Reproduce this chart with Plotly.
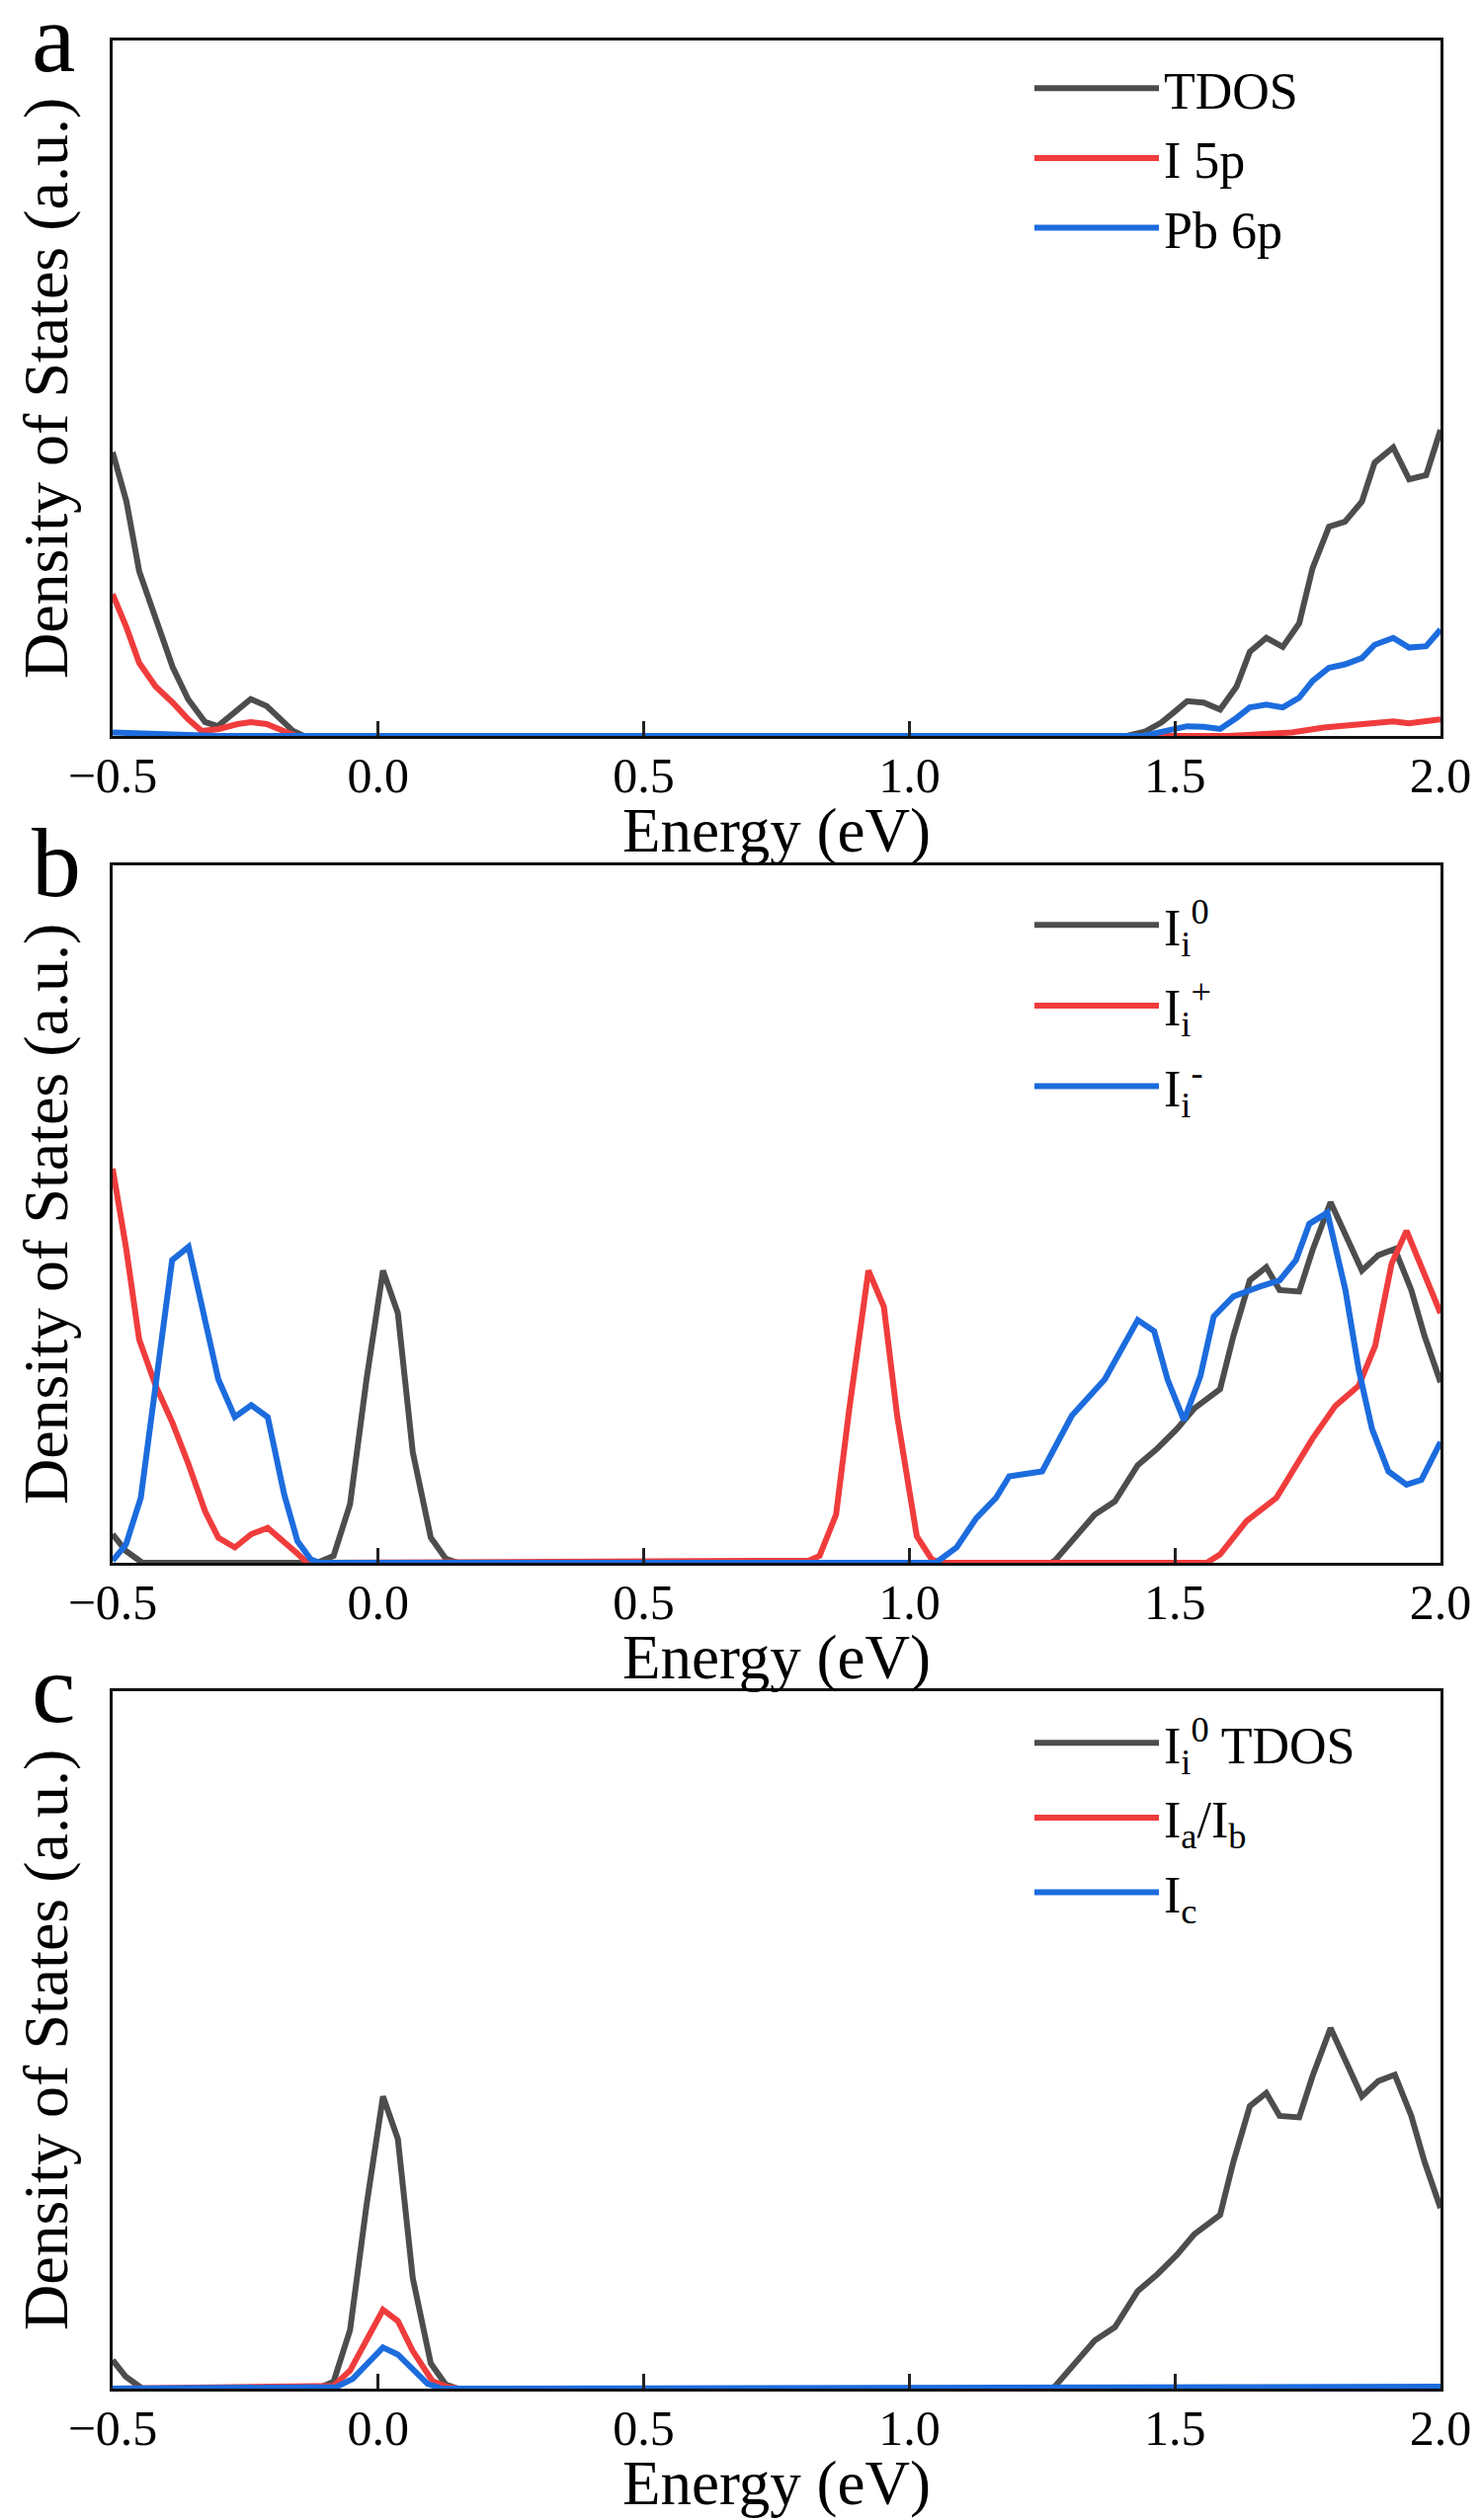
import plotly.graph_objects as go

# --- panel a : TDOS / I 5p / Pb 6p ---
a_tdos_e = [-0.5, -0.474, -0.45, -0.419, -0.387, -0.358, -0.326, -0.302, -0.271, -0.24, -0.21, -0.184,
            -0.16, -0.14, 1.41, 1.443, 1.474, 1.498, 1.523, 1.554, 1.585, 1.616, 1.641, 1.672, 1.703,
            1.734, 1.759, 1.79, 1.82, 1.852, 1.876, 1.911, 1.941, 1.973, 2.0]
a_tdos_v = [40.8, 33.7, 23.7, 16.6, 9.9, 5.3, 2.0, 1.4, 3.4, 5.3, 4.3, 2.4,
            0.7, 0, 0, 0.6, 1.9, 3.4, 5.0, 4.8, 3.8, 7.1, 12.1, 14.1, 12.8,
            16.2, 24.1, 30.1, 30.8, 33.7, 39.3, 41.5, 36.9, 37.5, 44.0]

a_i5p_e = [-0.5, -0.474, -0.45, -0.419, -0.387, -0.358, -0.332, -0.30, -0.265, -0.24, -0.21, -0.18,
           -0.155, 1.60, 1.72, 1.78, 1.876, 1.911, 1.94, 2.0]
a_i5p_v = [20.4, 15.6, 10.5, 7.1, 4.8, 2.4, 0.7, 1.0, 1.7, 2.0, 1.7, 0.7,
           0, 0, 0.5, 1.2, 1.8, 2.1, 1.8, 2.4]

a_pb6p_e = [-0.5, -0.4, -0.3, 1.44, 1.474, 1.498, 1.523, 1.554, 1.585, 1.616, 1.641, 1.672, 1.703,
            1.734, 1.759, 1.79, 1.82, 1.852, 1.876, 1.911, 1.941, 1.973, 2.0]
a_pb6p_v = [0.5, 0.3, 0, 0, 0.5, 1.0, 1.4, 1.3, 1.0, 2.6, 4.1, 4.5, 4.1,
            5.5, 7.9, 9.8, 10.3, 11.2, 13.1, 14.1, 12.7, 12.9, 15.3]

# --- panel b : I_i^0 / I_i^+ / I_i^- ---
i0_e = [-0.5, -0.475, -0.444, -0.115, -0.084, -0.053, -0.022, 0.009, 0.037, 0.065, 0.099, 0.127,
        0.15, 1.267, 1.275, 1.312, 1.349, 1.387, 1.43, 1.467, 1.504, 1.536, 1.585, 1.61, 1.641,
        1.672, 1.697, 1.734, 1.759, 1.793, 1.821, 1.852, 1.883, 1.914, 1.945, 1.97, 2.0]
i0_v = [4.1, 1.7, 0, 0, 1.0, 8.4, 26.3, 41.9, 35.8, 15.9, 3.6, 0.6,
        0, 0, 0.4, 3.6, 6.9, 8.8, 14.0, 16.4, 19.2, 22.1, 24.9, 32.5, 40.5,
        42.4, 39.1, 38.9, 44.8, 51.7, 47.2, 41.9, 44.1, 45.0, 39.1, 32.5, 25.9]

b_ip_e = [-0.5, -0.475, -0.45, -0.419, -0.388, -0.357, -0.326, -0.301, -0.27, -0.239, -0.208, -0.177,
          -0.152, -0.134, 0.81, 0.831, 0.862, 0.887, 0.906, 0.923, 0.952, 0.977, 1.014, 1.042, 1.06,
          1.56, 1.585, 1.635, 1.691, 1.722, 1.759, 1.802, 1.846, 1.877, 1.908, 1.936, 1.97, 2.0]
b_ip_v = [56.5, 45.3, 32.0, 25.4, 20.2, 14.1, 7.4, 3.6, 2.2, 4.1, 5.0, 3.1,
          1.3, 0, 0.3, 1.0, 6.9, 22.1, 33.4, 41.9, 36.7, 21.1, 3.8, 0.5, 0,
          0, 1.2, 6.0, 9.3, 13.1, 17.8, 22.5, 25.4, 31.1, 42.9, 47.6, 41.5, 35.8]

b_im_e = [-0.5, -0.475, -0.447, -0.419, -0.388, -0.357, -0.326, -0.301, -0.27, -0.239, -0.208, -0.177,
          -0.152, -0.127, -0.11, 1.05, 1.089, 1.126, 1.163, 1.188, 1.25, 1.306, 1.368, 1.43, 1.461,
          1.486, 1.517, 1.548, 1.573, 1.61, 1.66, 1.697, 1.728, 1.753, 1.787, 1.821, 1.846, 1.871,
          1.902, 1.936, 1.964, 2.0]
b_im_v = [0.3, 2.6, 9.3, 25.4, 43.4, 45.3, 34.8, 26.3, 20.9, 22.6, 20.9, 9.8,
          3.1, 0.5, 0, 0, 2.2, 6.4, 9.3, 12.4, 13.1, 21.1, 26.3, 34.8, 33.2,
          26.3, 20.4, 26.8, 35.3, 38.2, 39.6, 40.5, 43.4, 48.6, 50.2, 39.1, 27.7, 19.2,
          13.1, 11.2, 11.9, 17.3]

# --- panel c : I_i^0 TDOS (same as i0) / Ia/Ib / Ic ---
c_iab_e = [-0.5, -0.084, -0.053, -0.022, 0.009, 0.037, 0.065, 0.102, 0.127, 0.15, 2.0]
c_iab_v = [0, 0.4, 2.6, 6.8, 11.3, 9.7, 5.4, 1.1, 0.3, 0, 0]
c_ic_e = [-0.5, -0.08, -0.048, -0.016, 0.009, 0.037, 0.068, 0.093, 0.12, 1.3, 1.6, 2.0]
c_ic_v = [0, 0.2, 1.4, 4.0, 5.9, 4.9, 2.6, 0.7, 0, 0, 0.2, 0.3]

GREY = '#4d4d4d'
RED = '#f03c3c'
BLUE = '#1c6cde'
SERIF = 'Liberation Serif, Times New Roman, serif'

panels = [
    ('a', [(a_tdos_e, a_tdos_v, GREY, 'TDOS'),
           (a_i5p_e, a_i5p_v, RED, 'I 5p'),
           (a_pb6p_e, a_pb6p_v, BLUE, 'Pb 6p')]),
    ('b', [(i0_e, i0_v, GREY, 'I<sub>i</sub><sup>0</sup>'),
           (b_ip_e, b_ip_v, RED, 'I<sub>i</sub><sup>+</sup>'),
           (b_im_e, b_im_v, BLUE, 'I<sub>i</sub><sup>-</sup>')]),
    ('c', [(i0_e, i0_v, GREY, 'I<sub>i</sub><sup>0</sup> TDOS'),
           (c_iab_e, c_iab_v, RED, 'I<sub>a</sub>/I<sub>b</sub>'),
           (c_ic_e, c_ic_v, BLUE, 'I<sub>c</sub>')]),
]

# page geometry (px)
W, H = 1500, 2551
L, R = 106, 50
PW = W - L - R
boxes = [(33, 737), (868, 1574), (1704, 2410)]   # top, bottom of each plot box
legend_off = [8, 20, 12]
legend_gap = [0, 11, 5]


def px_x(x):
    return (x - L) / PW


fig = go.Figure()
layout = dict(width=W, height=H, margin=dict(l=L, r=R, t=0, b=0, autoexpand=False),
              paper_bgcolor='white', plot_bgcolor='white', annotations=[])

for i, (letter, series) in enumerate(panels):
    n = '' if i == 0 else str(i + 1)
    leg = 'legend' + n
    for k, (e, v, col, name) in enumerate(series):
        fig.add_trace(go.Scatter(x=e, y=v, mode='lines', name=name,
                                 line=dict(color=col, width=6), legendgroup=f'{letter}{k}',
                                 xaxis='x' + n, yaxis='y' + n, legend=leg))
    top, bot = boxes[i]
    ydom = [1 - bot / H, 1 - top / H]
    layout['xaxis' + n] = dict(
        domain=[0, 1], anchor='y' + n, range=[-0.5, 2.0], automargin=False,
        dtick=0.5, tickformat='.1f', ticks='inside', ticklen=15, tickwidth=3, tickcolor='#222',
        ticklabelstandoff=-6,
        showline=True, linecolor='#111', linewidth=3, mirror=True, showgrid=False, zeroline=False,
        tickfont=dict(family=SERIF, size=50, color='black'))
    layout['yaxis' + n] = dict(
        domain=ydom, anchor='x' + n, range=[0, 100], automargin=False,
        showticklabels=False, ticks='',
        showline=True, linecolor='#111', linewidth=3, mirror=True, showgrid=False, zeroline=False)
    layout[leg] = dict(x=px_x(1034), xanchor='left', y=1 - (top + legend_off[i]) / H, yanchor='top',
                       font=dict(family=SERIF, size=52, color='black'), itemwidth=126,
                       tracegroupgap=legend_gap[i], bgcolor='rgba(0,0,0,0)')
    # axis titles
    layout['annotations'].append(dict(
        text='Energy (eV)', xref='paper', yref='paper', x=0.5, xanchor='center',
        y=1 - (bot + 96) / H, yanchor='middle', showarrow=False,
        font=dict(family=SERIF, size=63, color='black')))
    layout['annotations'].append(dict(
        text='Density of States (a.u.)', xref='paper', yref='paper', textangle=-90,
        x=px_x(38), xanchor='center', y=1 - (top + bot) / 2 / H, yanchor='middle', showarrow=False,
        font=dict(family=SERIF, size=64, color='black')))
    # panel letter
    layout['annotations'].append(dict(
        text=letter, xref='paper', yref='paper', x=px_x(22), xanchor='left',
        y=1 - (top + 55) / H, yanchor='bottom', showarrow=False,
        font=dict(family=SERIF, size=100, color='black')))

fig.update_layout(**layout)
fig.write_html('out.html')
